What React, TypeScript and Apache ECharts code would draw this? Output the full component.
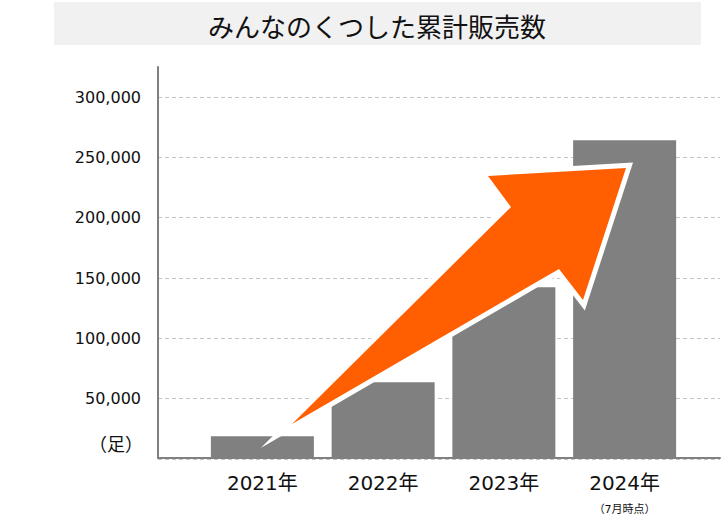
import React, { useEffect, useRef } from 'react'
import * as echarts from 'echarts'

const years = ['2021年', '2022年', '2023年', '2024年']
const pairsSold = [18000, 63000, 142000, 264000]
const yTicks = [0, 50000, 100000, 150000, 200000, 250000, 300000]
const noteLabel = '（7月時点）'
const unitLabel = '（足）'
const titleText = 'みんなのくつした累計販売数'

// arrow outline (decoration, px)
const arrowPoints = [
  [292, 424],
  [511, 207],
  [488, 176],
  [626, 168],
  [583, 300],
  [559, 269],
]

const FONT = "'DejaVu Sans', 'Noto Sans CJK JP', sans-serif"

const App: React.FC = () => {
  const chartRef = useRef<HTMLDivElement>(null)

  useEffect(() => {
    if (!chartRef.current) return
    const chart = echarts.init(chartRef.current, undefined, { renderer: 'svg' })

    const option: echarts.EChartsOption = {
      animation: false,
      backgroundColor: '#fff',
      grid: [
        // labels + dashed split lines
        { left: 158, right: 2, top: 97, bottom: 67 },
        // bars
        { left: 202, right: 37, top: 97, bottom: 67 },
        // axis frame
        { left: 158, right: 2, top: 67, bottom: 68 },
      ],
      xAxis: [
        { gridIndex: 0, type: 'value', show: false, min: 0, max: 1 },
        {
          gridIndex: 1,
          type: 'category',
          data: years,
          axisLine: { show: false },
          axisTick: { show: false },
          axisLabel: {
            interval: 0,
            margin: 15,
            fontSize: 20,
            lineHeight: 20,
            color: '#111',
            fontFamily: FONT,
            formatter: (v: string, i: number) => (i === years.length - 1 ? `${v}\n{n|${noteLabel}}` : v),
            rich: {
              n: { fontSize: 11, lineHeight: 33, color: '#111', fontFamily: FONT },
            },
          },
        },
        {
          gridIndex: 2,
          type: 'value',
          min: 0,
          max: 1,
          axisLine: { show: true, lineStyle: { color: '#808080', width: 2 } },
          axisTick: { show: false },
          axisLabel: { show: false },
          splitLine: { show: false },
        },
      ],
      yAxis: [
        {
          gridIndex: 0,
          type: 'value',
          min: yTicks[0],
          max: yTicks[yTicks.length - 1],
          interval: yTicks[1] - yTicks[0],
          axisLine: { show: false },
          axisTick: { show: false },
          axisLabel: {
            margin: 17,
            fontSize: 16,
            color: '#111',
            fontFamily: FONT,
            formatter: (v: number) => (v === 0 ? '' : v.toLocaleString('en-US')),
          },
          splitLine: {
            show: true,
            lineStyle: { color: '#c4c4c4', type: [4, 3], width: 1 },
          },
        },
        {
          gridIndex: 1,
          type: 'value',
          min: yTicks[0],
          max: yTicks[yTicks.length - 1],
          show: false,
        },
        {
          gridIndex: 2,
          type: 'value',
          min: 0,
          max: 1,
          axisLine: { show: true, lineStyle: { color: '#808080', width: 2 } },
          axisTick: { show: false },
          axisLabel: { show: false },
          splitLine: { show: false },
        },
      ],
      series: [
        {
          type: 'bar',
          xAxisIndex: 1,
          yAxisIndex: 1,
          data: pairsSold,
          barWidth: 103,
          itemStyle: { color: '#808080' },
          z: 3,
        },
      ],
      graphic: [
        {
          type: 'rect',
          shape: { x: 54, y: 2, width: 647, height: 43 },
          style: { fill: '#f1f1f1' },
          z: 1,
        },
        {
          type: 'text',
          x: 377,
          y: 25,
          style: {
            text: titleText,
            fill: '#111',
            font: `26px 'Noto Sans CJK JP', sans-serif`,
            textAlign: 'center',
            textVerticalAlign: 'middle',
          },
          z: 2,
        },
        {
          type: 'text',
          x: 143,
          y: 443,
          style: {
            text: unitLabel,
            fill: '#111',
            font: `18px 'Noto Sans CJK JP', sans-serif`,
            textAlign: 'right',
            textVerticalAlign: 'middle',
          },
        },
        {
          type: 'polygon',
          shape: { points: arrowPoints },
          style: { fill: '#fff', stroke: '#fff', lineWidth: 10, lineJoin: 'miter', miterLimit: 20 },
          z: 10,
        },
        {
          type: 'polygon',
          shape: { points: arrowPoints },
          style: { fill: '#ff5f00' },
          z: 11,
        },
      ],
    }

    chart.setOption(option)

    return () => {
      chart.dispose()
    }
  }, [])

  return <div ref={chartRef} style={{ position: 'fixed', left: 0, top: 0, width: 722, height: 526 }} />
}

export default App
